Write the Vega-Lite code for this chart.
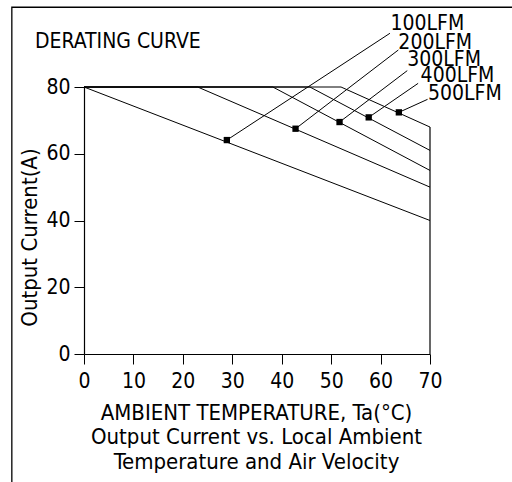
{
  "$schema": "https://vega.github.io/schema/vega-lite/v6.json",
  "width": 346,
  "height": 267,
  "autosize": {"type": "none"},
  "padding": {"left": 84, "top": 87, "right": 82, "bottom": 128},
  "background": "white",
  "title": {
    "text": "DERATING CURVE",
    "anchor": "start",
    "frame": "group",
    "dx": -49,
    "offset": 0,
    "dy": 62,
    "baseline": "alphabetic",
    "fontSize": 21,
    "fontWeight": "normal",
    "color": "black"
  },
  "config": {
    "font": "DejaVu Sans Condensed, DejaVu Sans",
    "view": {"stroke": null},
    "axis": {
      "grid": false,
      "domainColor": "black",
      "domainWidth": 1.2,
      "tickColor": "black",
      "tickWidth": 1,
      "tickSize": 10,
      "labelColor": "black",
      "labelFontSize": 21,
      "labelFlush": false,
      "titleColor": "black",
      "titleFontSize": 22,
      "titleFontWeight": "normal"
    }
  },
  "datasets": {
    "frame": [{"edge": "outline"}],
    "curves": [
      {"series": "100LFM", "t": 0, "current": 80},
      {"series": "100LFM", "t": 70, "current": 40},
      {"series": "200LFM", "t": 0, "current": 80},
      {"series": "200LFM", "t": 23, "current": 80},
      {"series": "200LFM", "t": 70, "current": 50},
      {"series": "300LFM", "t": 0, "current": 80},
      {"series": "300LFM", "t": 38.2, "current": 80},
      {"series": "300LFM", "t": 70, "current": 55},
      {"series": "400LFM", "t": 0, "current": 80},
      {"series": "400LFM", "t": 45.7, "current": 80},
      {"series": "400LFM", "t": 70, "current": 61},
      {"series": "500LFM", "t": 0, "current": 80},
      {"series": "500LFM", "t": 52, "current": 80},
      {"series": "500LFM", "t": 70, "current": 68}
    ],
    "tags": [
      {"series": "100LFM", "t": 28.9, "current": 64.1, "lead_t": 61.9, "lead_i": 96.1, "text_t": 62.0, "text_i": 98.8},
      {"series": "200LFM", "t": 42.8, "current": 67.5, "lead_t": 63.6, "lead_i": 91.1, "text_t": 63.6, "text_i": 93.3},
      {"series": "300LFM", "t": 51.7, "current": 69.5, "lead_t": 65.4, "lead_i": 84.9, "text_t": 65.4, "text_i": 88.0},
      {"series": "400LFM", "t": 57.6, "current": 70.9, "lead_t": 67.6, "lead_i": 81.1, "text_t": 68.1, "text_i": 83.4},
      {"series": "500LFM", "t": 63.7, "current": 72.4, "lead_t": 69.5, "lead_i": 76.3, "text_t": 69.6, "text_i": 78.0}
    ]
  },
  "encoding": {
    "x": {
      "type": "quantitative",
      "scale": {"domain": [0, 70], "nice": false, "zero": false},
      "axis": {
        "values": [0, 10, 20, 30, 40, 50, 60, 70],
        "labelPadding": 6,
        "title": ["AMBIENT TEMPERATURE, Ta(°C)", "Output Current vs. Local Ambient", "Temperature and Air Velocity"],
        "titleLineHeight": 24.5,
        "titleBaseline": "top",
        "titleY": 48,
        "titleX": 172
      }
    },
    "y": {
      "type": "quantitative",
      "scale": {"domain": [0, 80], "nice": false, "zero": false},
      "axis": {
        "values": [0, 20, 40, 60, 80],
        "labelPadding": 4,
        "title": "Output Current(A)",
        "titleAngle": -90,
        "titleAlign": "center",
        "titleBaseline": "middle",
        "titleX": -55,
        "titleY": 150
      }
    }
  },
  "layer": [
    {
      "data": {"name": "curves"},
      "mark": {"type": "line", "color": "black", "strokeWidth": 1},
      "encoding": {
        "x": {"field": "t"},
        "y": {"field": "current"},
        "detail": {"field": "series"}
      }
    },
    {
      "data": {"name": "frame"},
      "mark": {"type": "rule", "color": "black", "strokeWidth": 1.2},
      "encoding": {
        "x": {"datum": 70},
        "y": {"datum": 0},
        "y2": {"datum": 68}
      }
    },
    {
      "data": {"name": "tags"},
      "mark": {"type": "rule", "color": "black", "strokeWidth": 1},
      "encoding": {
        "x": {"field": "t"},
        "y": {"field": "current"},
        "x2": {"field": "lead_t"},
        "y2": {"field": "lead_i"}
      }
    },
    {
      "data": {"name": "tags"},
      "mark": {"type": "point", "shape": "square", "filled": true, "color": "black", "size": 40, "opacity": 1},
      "encoding": {
        "x": {"field": "t"},
        "y": {"field": "current"}
      }
    },
    {
      "data": {"name": "tags"},
      "mark": {"type": "text", "align": "left", "baseline": "middle", "fontSize": 21, "color": "black"},
      "encoding": {
        "x": {"field": "text_t"},
        "y": {"field": "text_i"},
        "text": {"field": "series"}
      }
    },
    {
      "data": {"name": "frame"},
      "mark": {"type": "rect", "fillOpacity": 0, "stroke": "black", "strokeWidth": 1.3},
      "encoding": {
        "x": {"datum": -14.6},
        "x2": {"datum": 100},
        "y": {"datum": 103.9},
        "y2": {"datum": -60}
      }
    }
  ]
}
